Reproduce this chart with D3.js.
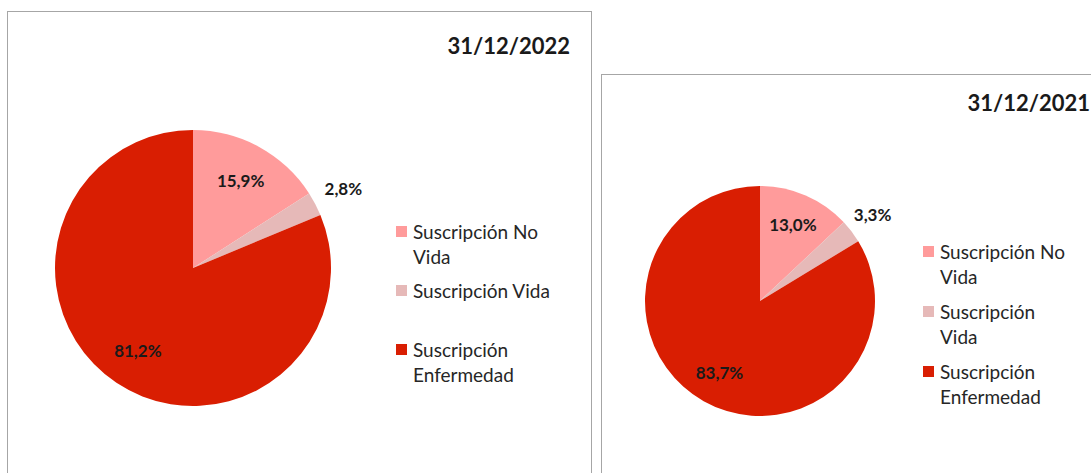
<!DOCTYPE html>
<html><head><meta charset="utf-8">
<script src="https://cdn.jsdelivr.net/npm/d3@7"></script>
<style>body{margin:0;background:#fff}svg{display:block}</style>
</head><body>
<svg id="c" width="1091" height="473"></svg>
<script>
const categories = ["Suscripción No Vida", "Suscripción Vida", "Suscripción Enfermedad"];
const values2022 = [15.9, 2.8, 81.2];
const values2021 = [13.0, 3.3, 83.7];
const titles = ["31/12/2022", "31/12/2021"];
const legendLines2022 = [["Suscripción No", "Vida"], ["Suscripción Vida"], ["Suscripción", "Enfermedad"]];
const legendLines2021 = [["Suscripción No", "Vida"], ["Suscripción", "Vida"], ["Suscripción", "Enfermedad"]];
const colors = ["#FF9B9B", "#E6B9B8", "#D91E02"];

const svg = d3.select("#c");
const FONT = "Lato, 'Open Sans', sans-serif";
const color = d3.scaleOrdinal().domain(categories).range(colors);
const fmt = v => d3.format(".1f")(v).replace(".", ",");

const panels = [
  {values: values2022, title: titles[0], legend: legendLines2022,
   box: [7.5, 11.5, 584, 480], cx: 193, cy: 268, r: 138,
   titleX: 570, titleY: 54, legX: 396, legY: 232, legStep: 59},
  {values: values2021, title: titles[1], legend: legendLines2021,
   box: [601.5, 74.5, 500, 420], cx: 760, cy: 301, r: 115,
   titleX: 1090, titleY: 111, legX: 923, legY: 252, legStep: 60}
];

panels.forEach(p => {
  const g = svg.append("g");
  g.append("rect").attr("x", p.box[0]).attr("y", p.box[1]).attr("width", p.box[2]).attr("height", p.box[3])
    .attr("fill", "#fff").attr("stroke", "#A6A6A6").attr("stroke-width", 1);
  g.append("text").attr("x", p.titleX).attr("y", p.titleY).attr("text-anchor", "end")
    .attr("font-family", FONT).attr("font-weight", "bold").attr("font-size", 22).attr("fill", "#1a1a1a")
    .text(p.title);

  const data = categories.map((c, i) => ({cat: c, value: p.values[i], lines: p.legend[i]}));
  const pie = d3.pie().sort(null).value(d => d.value);
  const arcs = pie(data);
  const arc = d3.arc().innerRadius(0).outerRadius(p.r);
  const pg = g.append("g").attr("transform", `translate(${p.cx},${p.cy})`);
  pg.selectAll("path").data(arcs).join("path").attr("d", arc).attr("fill", d => color(d.data.cat));

  const inArc = d3.arc().innerRadius(p.r * 0.72).outerRadius(p.r * 0.72);
  const outArc = d3.arc().innerRadius(p.r * 1.23).outerRadius(p.r * 1.23);
  pg.selectAll("text").data(arcs).join("text")
    .attr("transform", d => `translate(${(d.data.value < 5 ? outArc : inArc).centroid(d)})`)
    .attr("text-anchor", "middle").attr("dy", "0.35em")
    .attr("font-family", FONT).attr("font-weight", "bold").attr("font-size", 17).attr("fill", "#1a1a1a")
    .text(d => fmt(d.data.value) + "%");

  const lg = g.append("g");
  const item = lg.selectAll("g").data(data).join("g")
    .attr("transform", (d, i) => `translate(${p.legX},${p.legY + i * p.legStep})`);
  item.append("rect").attr("x", 0).attr("y", -6).attr("width", 11).attr("height", 11)
    .attr("fill", d => color(d.cat));
  item.each(function(d) {
    d3.select(this).selectAll("text").data(d.lines).join("text")
      .attr("x", 17).attr("y", (l, j) => j * 25).attr("dy", "0.35em")
      .attr("font-family", FONT).attr("font-size", 19).attr("fill", "#262626")
      .text(l => l);
  });
});
</script>
</body></html>
